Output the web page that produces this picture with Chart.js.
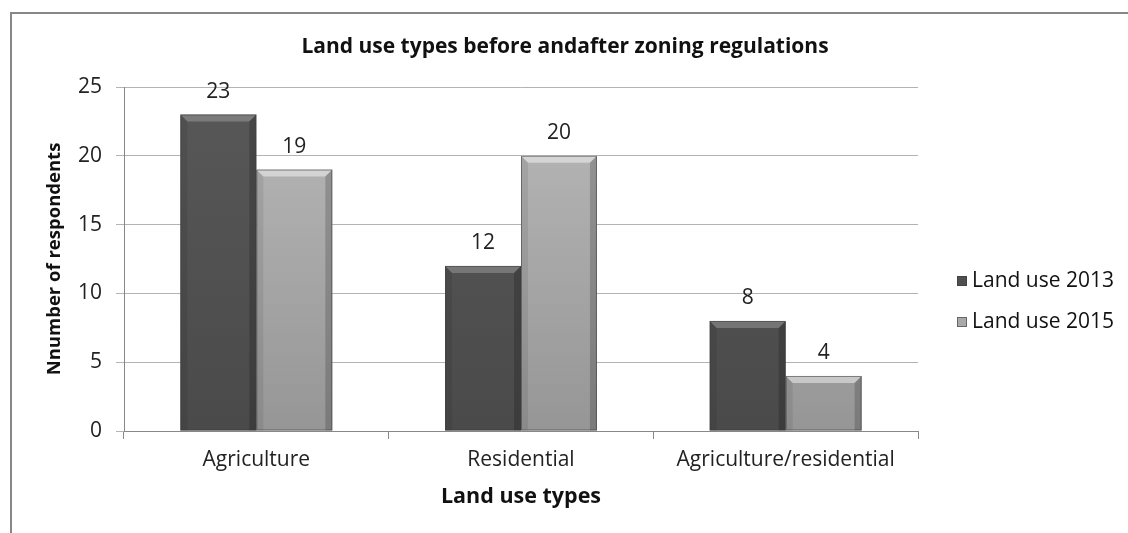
<!DOCTYPE html>
<html lang="en">
<head>
    <meta charset="UTF-8">
    <title>Land use types before and after zoning regulations</title>
    <script src="https://cdn.jsdelivr.net/npm/chart.js"></script>
    <style>
        html, body { margin: 0; padding: 0; background: #fff; }
        #wrap { width: 1128px; height: 533px; position: relative; }
    </style>
</head>
<body>
<div id="wrap"><canvas id="landChart" width="1128" height="533"></canvas></div>
<script>
    const categories = ['Agriculture', 'Residential', 'Agriculture/residential'];
    const landUse2013 = [23, 12, 8];
    const landUse2015 = [19, 20, 4];
    const seriesNames = ['Land use 2013', 'Land use 2015'];
    const yTicks = [0, 5, 10, 15, 20, 25];

    const FONT = "'Open Sans', 'Noto Sans', sans-serif";

    // vertical shading for each bar, lighter at the top
    function barFill(top, bottom) {
        return function (c) {
            const area = c.chart.chartArea;
            if (!area) return top;
            const g = c.chart.ctx.createLinearGradient(0, area.top, 0, area.bottom);
            g.addColorStop(0, top);
            g.addColorStop(1, bottom);
            return g;
        };
    }

    // bevelled edges + value labels on top of the bars
    const bevelPlugin = {
        id: 'bevel',
        afterDatasetsDraw(chart) {
            const ctx = chart.ctx;
            chart.data.datasets.forEach((ds, di) => {
                const meta = chart.getDatasetMeta(di);
                const light = di === 0 ? 'rgba(255,255,255,0.22)' : 'rgba(255,255,255,0.45)';
                const dark = 'rgba(0,0,0,0.18)';
                meta.data.forEach((bar, i) => {
                    const x0 = bar.x - bar.width / 2, x1 = bar.x + bar.width / 2;
                    const y0 = bar.y, y1 = bar.base;
                    const b = 7;
                    ctx.save();
                    // top bevel
                    ctx.fillStyle = light;
                    ctx.beginPath();
                    ctx.moveTo(x0, y0); ctx.lineTo(x1, y0); ctx.lineTo(x1 - b, y0 + b); ctx.lineTo(x0 + b, y0 + b);
                    ctx.closePath(); ctx.fill();
                    // left bevel
                    ctx.fillStyle = 'rgba(0,0,0,0.08)';
                    ctx.beginPath();
                    ctx.moveTo(x0, y0); ctx.lineTo(x0 + b, y0 + b); ctx.lineTo(x0 + b, y1); ctx.lineTo(x0, y1);
                    ctx.closePath(); ctx.fill();
                    // right bevel
                    ctx.fillStyle = dark;
                    ctx.beginPath();
                    ctx.moveTo(x1, y0); ctx.lineTo(x1 - b, y0 + b); ctx.lineTo(x1 - b, y1); ctx.lineTo(x1, y1);
                    ctx.closePath(); ctx.fill();
                    // outline
                    ctx.strokeStyle = 'rgba(60,60,60,0.55)';
                    ctx.lineWidth = 1;
                    ctx.strokeRect(x0 + 0.5, y0 + 0.5, bar.width - 1, y1 - y0 - 1);
                    // value label
                    ctx.fillStyle = '#222';
                    ctx.font = '21px ' + FONT;
                    ctx.textAlign = 'center';
                    ctx.textBaseline = 'middle';
                    ctx.fillText(String(ds.data[i]), bar.x, y0 - 23);
                    ctx.restore();
                });
            });
        },
        afterDraw(chart) {
            const ctx = chart.ctx;
            ctx.save();
            // outer frame (top and left edges)
            ctx.strokeStyle = '#878787';
            ctx.lineWidth = 2;
            ctx.beginPath();
            ctx.moveTo(11, 533); ctx.lineTo(11, 13); ctx.lineTo(1128, 13);
            ctx.stroke();
            // title
            ctx.fillStyle = '#111';
            ctx.font = 'bold 21px ' + FONT;
            ctx.textAlign = 'center';
            ctx.textBaseline = 'middle';
            ctx.fillText('Land use types before andafter zoning regulations', 565, 47);
            // legend
            const swatch = ['#4f4f4f', '#a9a9a9'];
            const ys = [281, 322];
            ctx.font = '21px ' + FONT;
            ctx.textAlign = 'left';
            seriesNames.forEach((name, k) => {
                ctx.fillStyle = swatch[k];
                ctx.fillRect(957, ys[k] - 5, 10, 10);
                ctx.strokeStyle = 'rgba(60,60,60,0.6)';
                ctx.lineWidth = 1;
                ctx.strokeRect(957.5, ys[k] - 4.5, 9, 9);
                ctx.fillStyle = '#111';
                ctx.fillText(name, 972, ys[k]);
            });
            ctx.restore();
        }
    };

    new Chart(document.getElementById('landChart'), {
        type: 'bar',
        data: {
            labels: categories,
            datasets: [
                {
                    label: seriesNames[0],
                    data: landUse2013,
                    backgroundColor: barFill('#585858', '#4a4a4a'),
                    categoryPercentage: 0.574,
                    barPercentage: 1
                },
                {
                    label: seriesNames[1],
                    data: landUse2015,
                    backgroundColor: barFill('#b9b9b9', '#969696'),
                    categoryPercentage: 0.574,
                    barPercentage: 1
                }
            ]
        },
        options: {
            responsive: false,
            animation: false,
            layout: { padding: { left: 0, top: 87, right: 210, bottom: 0 } },
            plugins: {
                legend: { display: false },
                title: { display: false },
                tooltip: { enabled: false }
            },
            scales: {
                x: {
                    afterFit(scale) { scale.height = 102; },
                    grid: { drawOnChartArea: false, drawTicks: true, tickLength: 8, color: '#888', offset: true },
                    border: { color: '#888' },
                    ticks: { color: '#222', font: { family: FONT, size: 21 }, padding: 8 },
                    title: {
                        display: true,
                        text: 'Land use types',
                        color: '#111',
                        font: { family: FONT, size: 21.5, weight: 'bold' },
                        padding: { bottom: 23 }
                    }
                },
                y: {
                    min: 0,
                    max: 25,
                    afterFit(scale) { scale.width = 124; },
                    afterBuildTicks(scale) { scale.ticks = yTicks.map(v => ({ value: v })); },
                    grid: { color: '#b3b3b3', tickLength: 8, drawTicks: true },
                    border: { color: '#888' },
                    ticks: { color: '#222', font: { family: FONT, size: 21 }, padding: 14 },
                    title: {
                        display: true,
                        text: 'Nnumber of respondents',
                        color: '#111',
                        font: { family: FONT, size: 18.5, weight: 'bold' },
                        padding: { top: 44 }
                    }
                }
            }
        },
        plugins: [bevelPlugin]
    });
</script>
</body>
</html>
